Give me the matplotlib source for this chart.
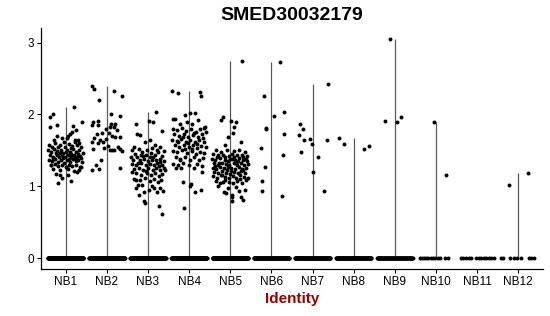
import matplotlib
matplotlib.use("Agg")
import matplotlib.pyplot as plt
import numpy as np

plt.rcParams['font.family'] = ['Liberation Sans', 'DejaVu Sans']

groups = ["NB1", "NB2", "NB3", "NB4", "NB5", "NB6", "NB7", "NB8", "NB9", "NB10", "NB11", "NB12"]

# non-zero expression values per group, with the jitter offset of each point
expr_nb1 = [2.10, 2.01, 1.96, 1.85, 1.83, 1.84, 1.89, 1.78, 1.72, 1.67, 1.67, 1.65, 1.65,
            1.58, 1.55, 1.60, 1.57, 1.61, 1.59, 1.56, 1.58, 1.55,
            1.50, 1.47, 1.52, 1.49, 1.51, 1.46, 1.50, 1.48, 1.52, 1.47, 1.50, 1.46,
            1.43, 1.41, 1.44, 1.40, 1.43, 1.40, 1.44, 1.41, 1.43, 1.40, 1.42,
            1.37, 1.35, 1.38, 1.34, 1.37, 1.33, 1.36, 1.34, 1.38, 1.35, 1.37, 1.34,
            1.29, 1.31, 1.28, 1.30, 1.27, 1.30, 1.28, 1.30, 1.27,
            1.24, 1.22, 1.24, 1.21, 1.23,
            1.30, 1.17, 1.15, 1.15, 1.20, 1.04, 1.07, 1.12, 1.27,
            1.46, 1.45, 1.47, 1.46, 1.45, 1.39, 1.38, 1.39, 1.39, 1.39,
            1.54, 1.53, 1.54, 1.62, 1.64, 1.60, 1.70, 1.70, 1.75]
jit_nb1 = [0.21, -0.30, -0.37, -0.22, -0.37, 0.18, 0.39, 0.26, 0.11, -0.10, 0.03, 0.23, 0.31,
           -0.40, -0.33, -0.25, -0.15, -0.05, 0.08, 0.16, 0.28, 0.38,
           -0.42, -0.35, -0.28, -0.20, -0.12, -0.06, 0.02, 0.10, 0.18, 0.25, 0.33, 0.41,
           -0.38, -0.30, -0.22, -0.16, -0.09, -0.02, 0.05, 0.12, 0.20, 0.27, 0.35,
           -0.41, -0.33, -0.26, -0.18, -0.11, -0.04, 0.04, 0.11, 0.17, 0.24, 0.31, 0.40,
           -0.36, -0.27, -0.19, -0.08, 0.00, 0.08, 0.16, 0.26, 0.36,
           -0.30, -0.14, 0.06, 0.20, 0.33,
           -0.35, -0.23, -0.13, 0.05, 0.27, -0.19, 0.14, -0.08, 0.35,
           -0.14, 0.14, 0.00, -0.24, 0.30, -0.07, 0.08, 0.22, -0.31, 0.37,
           -0.01, 0.12, -0.18, 0.22, -0.28, 0.33, 0.06, -0.20, 0.15]

expr_nb2 = [2.40, 2.36, 2.32, 2.26, 2.20, 2.01, 1.98, 1.90, 1.91, 1.85, 1.85, 1.87, 1.82, 1.83,
            1.79, 1.73, 1.74, 1.74, 1.70, 1.69, 1.68, 1.67, 1.62, 1.65, 1.66, 1.60,
            1.52, 1.53, 1.50, 1.51, 1.51, 1.55, 1.52, 1.36, 1.30, 1.23, 1.24, 1.25,
            1.56, 1.78, 1.62, 1.49, 1.86]
jit_nb2 = [-0.36, -0.32, 0.17, 0.37, -0.18, 0.11, 0.31, -0.34, -0.22, -0.36, -0.21, 0.19, 0.18, 0.07,
           -0.03, -0.24, -0.12, 0.05, 0.13, 0.21, 0.31, -0.30, -0.36, -0.16, -0.02, -0.22,
           -0.34, -0.07, 0.08, 0.12, 0.17, 0.28, 0.31, -0.14, -0.26, -0.36, -0.18, 0.33,
           0.03, 0.24, -0.10, 0.36, 0.10]

expr_nb3 = [2.04, 1.87, 1.91, 1.89, 1.77, 1.73, 1.71,
            1.61, 1.64, 1.58, 1.55, 1.50, 1.52, 1.53, 1.55, 1.49,
            1.45, 1.47, 1.44, 1.46, 1.43, 1.47, 1.42, 1.41, 1.40,
            1.37, 1.36, 1.38, 1.35, 1.37, 1.36, 1.38, 1.35,
            1.31, 1.30, 1.32, 1.29, 1.31, 1.29, 1.32, 1.30,
            1.24, 1.26, 1.23, 1.25, 1.22, 1.25, 1.22, 1.26,
            1.18, 1.16, 1.19, 1.15, 1.18, 1.14, 1.17,
            1.10, 1.08, 1.11, 1.07, 1.10, 1.06, 1.09,
            1.09, 1.02, 0.88, 0.92, 0.95, 0.97, 0.92, 0.97, 0.76, 0.79, 0.72, 0.61, 1.01, 1.00, 0.98, 0.94,
            1.42, 1.40, 1.33, 1.28, 1.50, 1.51, 1.20, 1.23, 1.21, 1.41, 1.44, 1.34]
jit_nb3 = [0.20, -0.30, 0.02, 0.13, 0.33, -0.26, -0.20,
           -0.08, 0.05, 0.18, -0.35, -0.40, -0.22, 0.10, 0.28, 0.38,
           -0.32, -0.15, -0.04, 0.07, 0.16, 0.25, 0.34, -0.42, -0.26,
           -0.36, -0.20, -0.10, 0.00, 0.09, 0.20, 0.30, 0.40,
           -0.40, -0.29, -0.17, -0.06, 0.04, 0.14, 0.23, 0.33,
           -0.34, -0.23, -0.12, 0.01, 0.11, 0.20, 0.29, 0.38,
           -0.28, -0.16, -0.03, 0.08, 0.17, 0.27, 0.35,
           -0.33, -0.20, -0.07, 0.04, 0.14, 0.24, 0.32,
           -0.28, -0.24, -0.22, -0.10, 0.02, 0.15, 0.23, 0.28, -0.08, -0.10, 0.27, 0.35, -0.14, 0.09, -0.30, 0.37,
           -0.12, 0.12, -0.24, 0.26, -0.02, 0.22, -0.38, 0.41, -0.05, 0.06, -0.18, 0.30]

expr_nb4 = [2.32, 2.30, 2.31, 2.25, 1.94, 1.93, 1.99, 2.02, 2.02, 1.92, 1.87, 1.83, 1.81, 1.86, 1.90,
            1.80, 1.78, 1.81, 1.77, 1.79, 1.76, 1.80, 1.75,
            1.72, 1.70, 1.73, 1.69, 1.71, 1.68, 1.72,
            1.65, 1.63, 1.66, 1.62, 1.65, 1.61, 1.64, 1.62,
            1.57, 1.55, 1.58, 1.54, 1.57, 1.53, 1.56, 1.54,
            1.49, 1.47, 1.50, 1.46, 1.49, 1.45, 1.48, 1.46,
            1.40, 1.38, 1.41, 1.37, 1.40, 1.36, 1.39,
            1.31, 1.29, 1.33, 1.30, 1.31, 1.28,
            1.25, 1.25, 1.20, 1.06, 1.00, 1.03, 0.92, 0.95, 0.69, 1.36, 1.26,
            1.68, 1.59, 1.61, 1.52, 1.60, 1.67, 1.52, 1.74]
jit_nb4 = [-0.41, -0.28, 0.27, 0.29, -0.39, -0.34, -0.10, 0.02, 0.15, 0.22, -0.22, 0.38, 0.36, 0.08, -0.05,
           -0.40, -0.30, -0.18, -0.07, 0.05, 0.16, 0.26, 0.40,
           -0.36, -0.25, -0.13, -0.02, 0.10, 0.21, 0.32,
           -0.41, -0.30, -0.19, -0.08, 0.03, 0.14, 0.25, 0.36,
           -0.35, -0.24, -0.12, 0.00, 0.09, 0.19, 0.30, 0.41,
           -0.40, -0.29, -0.17, -0.05, 0.06, 0.17, 0.27, 0.37,
           -0.33, -0.21, -0.09, 0.03, 0.13, 0.24, 0.34,
           -0.38, -0.27, -0.14, 0.00, 0.20, 0.31,
           -0.33, -0.20, 0.31, -0.14, 0.02, 0.05, 0.15, 0.29, -0.12, -0.22, 0.12,
           -0.15, 0.20, -0.26, 0.08, -0.03, 0.33, -0.10, 0.12]

expr_nb5 = [2.75, 1.97, 1.92, 1.91, 1.90, 1.83, 1.74, 1.69, 1.61, 1.57,
            1.50, 1.48, 1.51, 1.49, 1.50, 1.47,
            1.45, 1.43, 1.44, 1.42, 1.45, 1.43, 1.44, 1.42,
            1.38, 1.36, 1.39, 1.37, 1.35, 1.38, 1.36, 1.39, 1.36, 1.38,
            1.32, 1.30, 1.33, 1.31, 1.29, 1.32, 1.30, 1.33, 1.30, 1.31,
            1.26, 1.24, 1.27, 1.25, 1.23, 1.26, 1.24, 1.27, 1.24, 1.26,
            1.20, 1.18, 1.21, 1.19, 1.17, 1.20, 1.18, 1.21, 1.19,
            1.14, 1.12, 1.15, 1.13, 1.11, 1.14, 1.12, 1.15, 1.13, 1.11,
            1.07, 1.05, 1.08, 1.06, 1.04, 1.07, 1.05, 1.08,
            1.06, 0.90, 0.85, 0.88, 0.93, 0.85, 0.95, 0.81, 0.79, 0.92, 0.98, 0.99, 1.00,
            1.33, 1.27, 1.33, 1.23, 1.16, 1.21, 1.10, 1.28, 1.35, 1.41, 1.40, 1.40, 1.41, 1.38, 1.35]
jit_nb5 = [0.29, -0.18, -0.23, 0.01, 0.15, 0.09, 0.07, -0.05, 0.25, -0.13,
           -0.35, -0.22, -0.08, 0.10, 0.22, 0.35,
           -0.42, -0.30, -0.17, -0.03, 0.05, 0.16, 0.28, 0.40,
           -0.44, -0.36, -0.26, -0.14, -0.05, 0.04, 0.12, 0.21, 0.30, 0.38,
           -0.40, -0.31, -0.21, -0.11, -0.02, 0.08, 0.17, 0.26, 0.34, 0.43,
           -0.43, -0.34, -0.25, -0.16, -0.07, 0.02, 0.11, 0.20, 0.29, 0.38,
           -0.39, -0.29, -0.20, -0.10, 0.00, 0.09, 0.18, 0.27, 0.36,
           -0.41, -0.32, -0.22, -0.12, -0.03, 0.06, 0.15, 0.24, 0.33, 0.42,
           -0.35, -0.24, -0.14, -0.04, 0.07, 0.17, 0.28, 0.38,
           -0.18, -0.10, 0.04, 0.05, 0.20, 0.26, 0.36, 0.30, 0.04, -0.15, -0.05, 0.13, -0.30,
           -0.27, -0.06, 0.14, 0.32, -0.19, 0.02, 0.23, -0.37, 0.40, -0.12, 0.10, 0.31, -0.33, -0.01, 0.19]

expr_nb6 = [2.73, 2.25, 1.98, 2.03, 1.80, 1.81, 1.72, 1.53, 1.44, 1.27, 1.07, 0.94, 0.87]
jit_nb6 = [0.21, -0.17, 0.06, 0.30, -0.13, -0.12, 0.30, -0.26, 0.28, -0.16, -0.22, -0.23, 0.26]

expr_nb7 = [2.42, 1.86, 1.79, 1.71, 1.65, 1.66, 1.59, 1.65, 1.47, 1.40, 1.20, 0.94]
jit_nb7 = [0.37, -0.30, -0.23, -0.34, -0.22, -0.06, -0.02, 0.34, -0.29, 0.12, 0.00, 0.27]

expr_nb8 = [1.67, 1.59, 1.52, 1.56]
jit_nb8 = [-0.35, -0.23, 0.26, 0.38]

expr_nb9 = [3.05, 1.91, 1.90, 1.97]
jit_nb9 = [-0.12, -0.24, 0.05, 0.16]

expr_nb10 = [1.89, 1.15]
jit_nb10 = [-0.05, 0.25]

expr_nb11 = []
jit_nb11 = []

expr_nb12 = [1.01, 1.19]
jit_nb12 = [-0.23, 0.24]

# cells with zero expression: counts for the crowded groups, offsets for the sparse ones
zero_counts = [220, 260, 220, 200, 240, 120, 120, 110, 90]
zero_jit_nb10 = [-0.40, -0.35, -0.30, -0.25, -0.19, -0.13, -0.07, -0.02, 0.04, 0.10, 0.22, 0.28]
zero_jit_nb11 = [-0.40, -0.35, -0.28, -0.20, -0.14, -0.02, 0.04, 0.10, 0.16, 0.22, 0.28, 0.34, 0.40]
zero_jit_nb12 = [-0.41, -0.36, -0.21, -0.10, -0.03, 0.07, 0.25, 0.31, 0.38]

expr_all = [expr_nb1, expr_nb2, expr_nb3, expr_nb4, expr_nb5, expr_nb6,
            expr_nb7, expr_nb8, expr_nb9, expr_nb10, expr_nb11, expr_nb12]
jit_all = [jit_nb1, jit_nb2, jit_nb3, jit_nb4, jit_nb5, jit_nb6,
           jit_nb7, jit_nb8, jit_nb9, jit_nb10, jit_nb11, jit_nb12]
zero_jit_all = [np.linspace(-0.43, 0.43, n) for n in zero_counts]
zero_jit_all += [zero_jit_nb10, zero_jit_nb11, zero_jit_nb12]

fig = plt.figure(figsize=(5.5, 3.16), dpi=100)
ax = fig.add_axes([41/550, 47/316, 502/550, 241/316])

for i, g in enumerate(groups):
    x = i + 1
    vals = np.array(expr_all[i], dtype=float)
    jit = np.array(jit_all[i], dtype=float)
    zj = np.array(zero_jit_all[i], dtype=float)
    if len(vals) > 0:
        ax.vlines(x, 0, vals.max(), color="#5a5a5a", lw=0.9, zorder=1)
    ax.scatter(x + zj, np.zeros(len(zj)), s=8, c="black", linewidths=0, zorder=3)
    ax.scatter(x + jit, vals, s=8, c="black", linewidths=0, zorder=3)

ax.set_xlim(0.4, 12.6)
ax.set_ylim(-0.1525, 3.2025)
ax.set_xticks(range(1, len(groups) + 1))
ax.set_xticklabels(groups)
ax.set_yticks([0, 1, 2, 3])
ax.set_yticklabels(["0", "1", "2", "3"])

for s in ["top", "right"]:
    ax.spines[s].set_visible(False)
for s in ["left", "bottom"]:
    ax.spines[s].set_linewidth(0.9)
    ax.spines[s].set_color("black")
ax.tick_params(length=2.7, width=0.8, labelsize=8.5, pad=2.2, colors="black")

fig.text(292/550, 1 - 16/316, "SMED30032179", ha="center", va="center",
         fontsize=14, fontweight="bold")
fig.text(292/550, 1 - 299/316, "Identity", ha="center", va="center",
         fontsize=11, fontweight="bold", color="#990000")

fig.savefig("out.png", dpi=100)
